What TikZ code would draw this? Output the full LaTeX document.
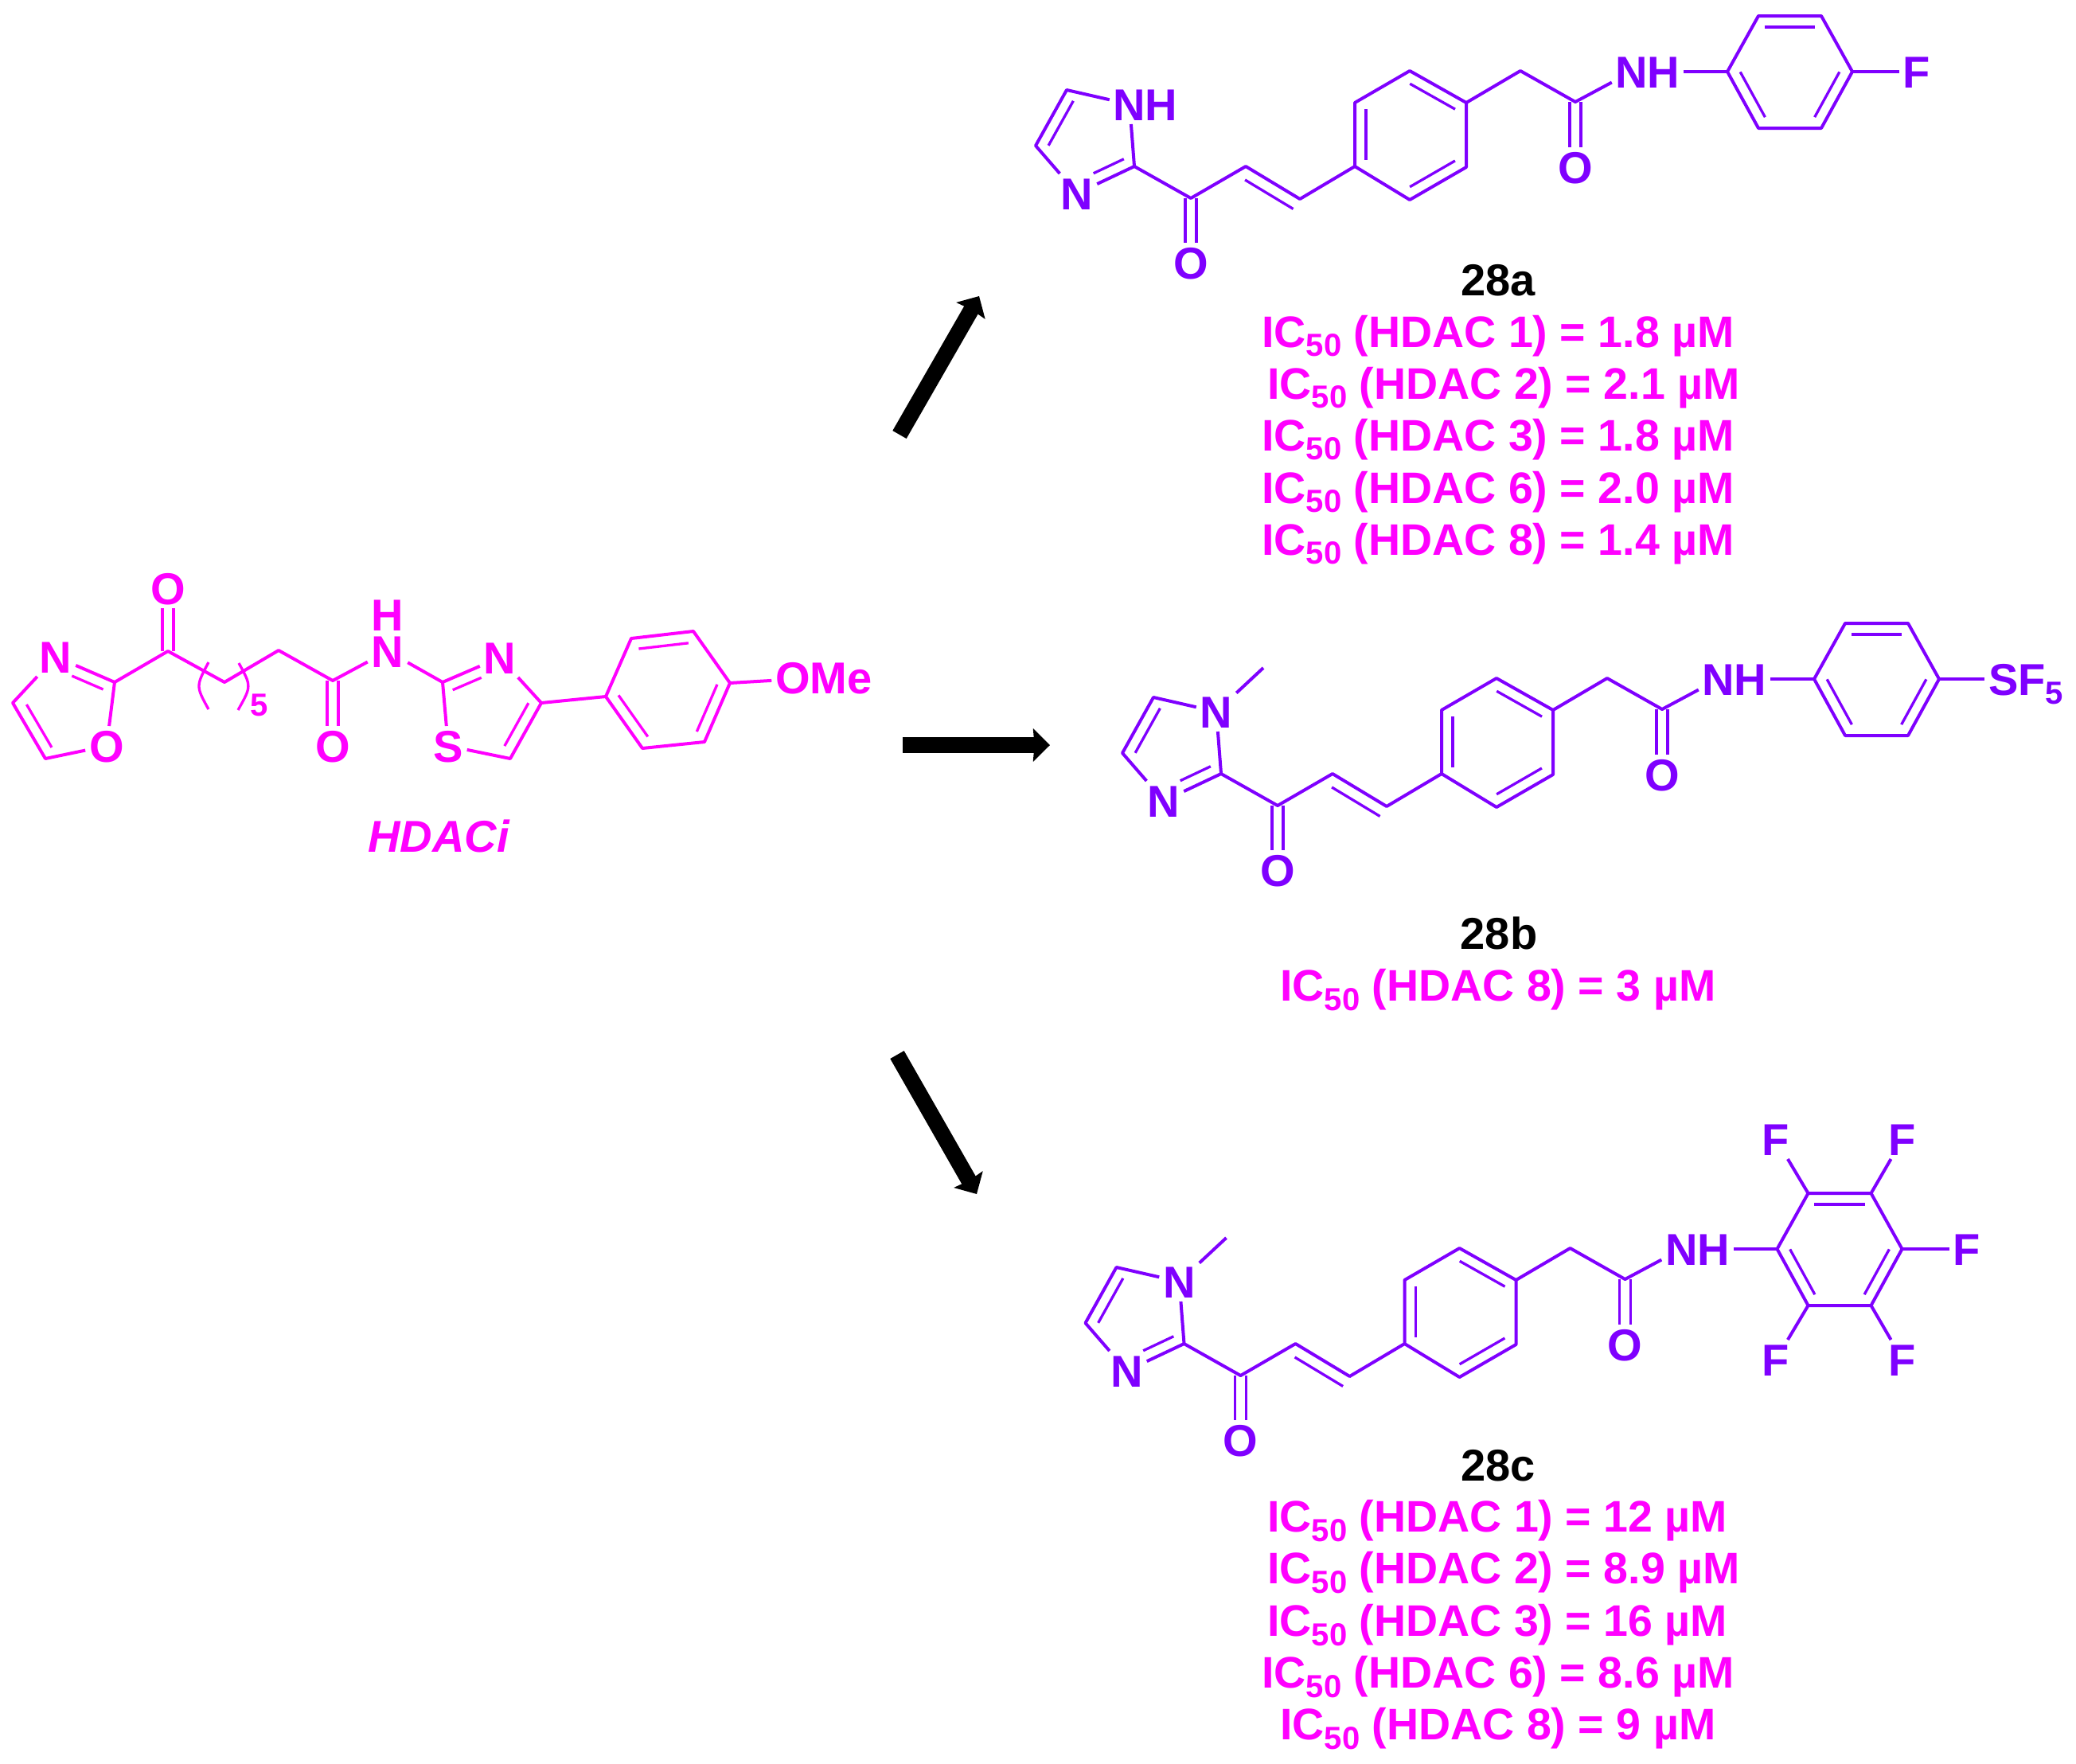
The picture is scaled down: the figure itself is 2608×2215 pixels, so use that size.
\documentclass[tikz,border=0pt]{standalone}
\usepackage{fontspec}
\setmainfont{Liberation Sans}
\usepackage{tikz}
\usetikzlibrary{calc,arrows.meta}
\definecolor{hdacpink}{RGB}{255,0,255}
\definecolor{chainviolet}{RGB}{127,0,255}
\newcommand{\bigfont}{\fontsize{31.9}{34}\selectfont\bfseries}
\newcommand{\lowidx}[1]{\raisebox{-6.8pt}{\fontsize{22.8}{24}\selectfont #1}}
\newcommand{\innerb}[5]{\draw[inbond] ($(#1)!#4!(#2)!#3!90:(#2)$) -- ($(#1)!#5!(#2)!#3!90:(#2)$);}
\tikzset{
  bond/.style={line width=.08cm, line join=round},
  inbond/.style={line width=.066cm},
  dbond/.style={line width=.066cm, double=white, double distance=.214cm},
  atom/.style={font=\bigfont, inner sep=.1cm, outer sep=0pt, text height=.8cm, text depth=0pt},
  cmpd/.style={font=\bigfont, inner sep=0pt, text=black},
  ictext/.style={font=\fontsize{31.6}{34}\selectfont\bfseries, inner sep=0pt, anchor=base west, text=hdacpink},
  fatarrow/.style={line width=.4cm, -{Stealth[length=.42cm,width=.82cm,inset=.03cm]}},
}
% imidazole - enone - phenyl - amide - aryl, coordinates of 28a
\newcommand{\linker}{
  \foreach \p/\x/\y in {c5/1340/113, c4/1301/183, c2/1425/209, cc/1496/249, v1/1565/209, v2/1633/250,
      p1/1702/209, p2/1702/129, p3/1771/89, p4/1842/129, p5/1842/210, p6/1771/251,
      m/1910/89, am/1979/128, r1/2170/90, r2/2209/20, r3/2288/20, r4/2327/90, r5/2288/161, r6/2209/161}
    \coordinate (\p) at (\x,\y);
  \node[atom] (n1) at (1419,131) {N};
  \node[atom] (n3) at (1353,243) {N};
  \node[atom] (ox) at (1496,330) {O};
  \node[atom] (oa) at (1979,210) {O};
  \node[atom] (nh) at (2050,90) {N};
  \node[atom] (hh) at (2090,90) {H};
  \draw[dbond] (cc) -- (ox);
  \draw[dbond] (am) -- (oa);
  \draw[bond] (n1) -- (c5) -- (c4) -- (n3);
  \draw[bond] (n3) -- (c2) -- (n1);
  \draw[bond] (c2) -- (cc) -- (v1) -- (v2) -- (p1);
  \draw[bond] (p1) -- (p2) -- (p3) -- (p4) -- (p5) -- (p6) -- cycle;
  \draw[bond] (p4) -- (m) -- (am) -- (nh);
  \draw[bond] (hh) -- (r1);
  \draw[bond] (r1) -- (r2) -- (r3) -- (r4) -- (r5) -- (r6) -- cycle;
  \innerb{c5}{c4}{.28cm}{.1}{.9}
  \innerb{c2}{n3}{-.28cm}{.1}{.63}
  \innerb{v1}{v2}{-.3cm}{.1}{.99}
  \innerb{p2}{p1}{.28cm}{.1}{.9}
  \innerb{p3}{p4}{-.28cm}{.1}{.9}
  \innerb{p5}{p6}{-.28cm}{.1}{.9}
  \innerb{r2}{r3}{-.28cm}{.1}{.9}
  \innerb{r4}{r5}{-.28cm}{.1}{.9}
  \innerb{r6}{r1}{-.28cm}{.1}{.9}
}
\begin{document}
\begin{tikzpicture}[x=.02cm, y=-.02cm]
\useasboundingbox (0,0) rectangle (2608,2215);

% lead compound
\begin{scope}[color=hdacpink]
\foreach \p/\x/\y in {c2/144/857, c5/16/883, c4/57/953, k1/211/818, w1/282/857, w2/350/817, k2/418/855,
    t2/556/857, t5/641/953, t4/680/883, q1/761/875, q2/793/802, q3/871/793, q4/917/858, q5/885/932, q6/807/940,
    bl1/262/832, bl2/246/862, bl3/262/891, br1/300/833, br2/316/862, br3/299/892}
  \coordinate (\p) at (\x,\y);
\node[atom] (n3) at (70,825) {N};
\node[atom] (o1) at (134,937) {O};
\node[atom] (ok1) at (211,739) {O};
\node[atom] (ok2) at (418,937) {O};
\node[atom] (nt) at (487,818) {N};
\node[atom] (ht) at (487,772) {H};
\node[atom] (tn) at (628,826) {N};
\node[atom] (ts) at (563,937) {S};
\node[atom] (ome) at (1035,851) {OMe};
\node[atom,font=\fontsize{22.8}{24}\selectfont\bfseries,text height=.58cm] (five) at (326,885) {5};
\node[font=\bigfont\itshape, inner sep=0pt] (hdaci) at (551,1050) {HDACi};
\draw[dbond] (k1) -- (ok1);
\draw[dbond] (k2) -- (ok2);
\draw[bond] (n3) -- (c5) -- (c4) -- (o1) -- (c2) -- (n3);
\draw[bond] (c2) -- (k1) -- (w1) -- (w2) -- (k2) -- (nt) -- (t2) -- (tn);
\draw[bond] (t2) -- (ts) -- (t5) -- (t4) -- (tn);
\draw[bond] (t4) -- (q1);
\draw[bond] (q1) -- (q2) -- (q3) -- (q4) -- (q5) -- (q6) -- cycle;
\draw[bond] (q4) -- (ome);
\draw[inbond] (bl1) .. controls (bl2) .. (bl3);
\draw[inbond] (br1) .. controls (br2) .. (br3);
\innerb{c2}{n3}{.28cm}{.12}{.65}
\innerb{c5}{c4}{.28cm}{.13}{.9}
\innerb{t2}{tn}{-.28cm}{.1}{.6}
\innerb{t4}{t5}{-.28cm}{.1}{.87}
\innerb{q2}{q3}{-.28cm}{.1}{.9}
\innerb{q4}{q5}{-.28cm}{.1}{.9}
\innerb{q6}{q1}{-.28cm}{.1}{.9}
\end{scope}

% 28a
\begin{scope}[color=chainviolet, name prefix=a-]
\linker
\node[atom] (nhh) at (1459,131) {H};
\node[atom] (f) at (2408,90) {F};
\draw[bond] (r4) -- (f);
\end{scope}

% 28b
\begin{scope}[color=chainviolet, shift={(109,763)}, name prefix=b-]
\linker
\coordinate (me) at (1478,76);
\node[atom] (sf) at (2436,90) {SF\lowidx{5}};
\draw[bond] (n1) -- (me);
\draw[bond] (r4) -- (sf);
\end{scope}

% 28c
\begin{scope}[color=chainviolet, shift={(62.5,1479)}, name prefix=c-]
\linker
\coordinate (me) at (1478,76);
\node[atom] (f2) at (2168.5,-48) {F};
\node[atom] (f3) at (2327.5,-48) {F};
\node[atom] (f4) at (2408.5,90) {F};
\node[atom] (f5) at (2327.5,229) {F};
\node[atom] (f6) at (2168.5,229) {F};
\draw[bond] (n1) -- (me);
\draw[bond] (r2) -- (f2);
\draw[bond] (r3) -- (f3);
\draw[bond] (r4) -- (f4);
\draw[bond] (r5) -- (f5);
\draw[bond] (r6) -- (f6);
\end{scope}

% names and values
\node[cmpd] (name-a) at (1882,352) {28a};
\node[cmpd] (name-b) at (1883,1172.5) {28b};
\node[cmpd] (name-c) at (1882,1841.5) {28c};
\foreach \n/\h/\v/\xp/\yp in {a1/1/1.8/1585/436, a2/2/2.1/1592/501, a3/3/1.8/1585/566, a6/6/2.0/1585/632, a8/8/1.4/1585/697,
    b8/8/3/1608/1257.5,
    c1/1/12/1592/1924.5, c2/2/8.9/1592/1989.5, c3/3/16/1592/2055.5, c6/6/8.6/1585/2120.5, c8/8/9/1608/2185.5}
  \node[ictext] (ic\n) at (\xp,\yp) {IC\lowidx{50} (HDAC \h) = \v\ µM};

% reaction arrows
\coordinate (up0) at (1130,546);
\coordinate (up1) at (1230,372);
\coordinate (mid0) at (1134,936);
\coordinate (mid1) at (1319,936);
\coordinate (dn0) at (1127,1325);
\coordinate (dn1) at (1227,1500);
\draw[fatarrow] (up0) -- (up1);
\draw[fatarrow] (mid0) -- (mid1);
\draw[fatarrow] (dn0) -- (dn1);
\end{tikzpicture}
\end{document}
